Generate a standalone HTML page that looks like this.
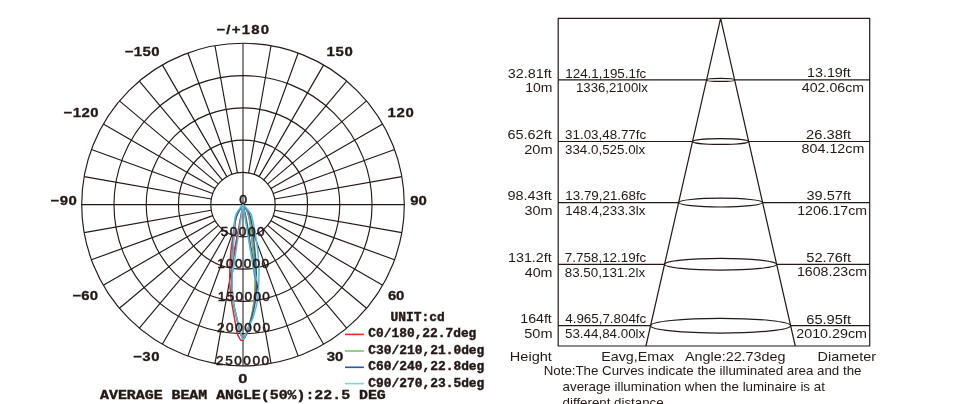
<!DOCTYPE html>
<html><head><meta charset="utf-8"><style>
html,body{margin:0;padding:0;background:#fff;}
svg{display:block;will-change:transform;}
text{fill:#231815;white-space:pre;}
.b{font-family:"Liberation Sans",sans-serif;font-weight:bold;stroke:#231815;stroke-width:0.3;}
.s{font-family:"Liberation Sans",sans-serif;}
.m{font-family:"Liberation Mono",monospace;font-weight:bold;stroke:#231815;stroke-width:0.4;}
.r{font-family:"Liberation Sans",sans-serif;stroke:#231815;stroke-width:0.5;}
</style></head><body>
<svg width="977" height="404" viewBox="0 0 977 404">
<rect width="977" height="404" fill="#fff"/>
<path d="M243 43.3V365.9" stroke="#878180" stroke-width="1.9" fill="none"/>
<g fill="none" stroke="#231815" stroke-width="1.15"><circle cx="243" cy="204.6" r="32.26"/><circle cx="243" cy="204.6" r="64.52"/><circle cx="243" cy="204.6" r="96.78"/><circle cx="243" cy="204.6" r="129.04"/><circle cx="243" cy="204.6" r="161.3"/><path d="M248.6 172.83L271.01 45.75M254.03 174.29L298.17 53.03M259.13 176.66L323.65 64.91M263.74 179.89L346.68 81.04M267.71 183.86L366.56 100.92M270.94 188.47L382.69 123.95M273.31 193.57L394.57 149.43M274.77 199L401.85 176.59M274.77 210.2L401.85 232.61M273.31 215.63L394.57 259.77M270.94 220.73L382.69 285.25M267.71 225.34L366.56 308.28M263.74 229.31L346.68 328.16M259.13 232.54L323.65 344.29M254.03 234.91L298.17 356.17M248.6 236.37L271.01 363.45M237.4 236.37L214.99 363.45M231.97 234.91L187.83 356.17M226.87 232.54L162.35 344.29M222.26 229.31L139.32 328.16M218.29 225.34L119.44 308.28M215.06 220.73L103.31 285.25M212.69 215.63L91.43 259.77M211.23 210.2L84.15 232.61M211.23 199L84.15 176.59M212.69 193.57L91.43 149.43M215.06 188.47L103.31 123.95M218.29 183.86L119.44 100.92M222.26 179.89L139.32 81.04M226.87 176.66L162.35 64.91M231.97 174.29L187.83 53.03M237.4 172.83L214.99 45.75"/><path d="M81.7 204.6H404.3"/></g>
<g fill="none" stroke="#231815" stroke-width="1.2"><path d="M558.2 18.3H869.7V346H558.2Z"/><path d="M645.95 346L720.6 18.3L795.25 346"/><path d="M558.2 79.9H706.57M734.63 79.9H869.7"/><ellipse cx="720.6" cy="79.9" rx="14.03" ry="1.47"/><path d="M558.2 141.5H692.54M748.66 141.5H869.7"/><ellipse cx="720.6" cy="141.5" rx="28.06" ry="2.95"/><path d="M558.2 202.6H678.62M762.58 202.6H869.7"/><ellipse cx="720.6" cy="202.6" rx="41.98" ry="4.41"/><path d="M558.2 264.3H664.56M776.64 264.3H869.7"/><ellipse cx="720.6" cy="264.3" rx="56.04" ry="5.88"/><path d="M558.2 325.7H650.57M790.63 325.7H869.7"/><ellipse cx="720.6" cy="325.7" rx="70.03" ry="7.35"/></g>
<g fill="none" stroke-width="1.5" stroke-linejoin="round" stroke-linecap="round"><path d="M243.00 204.80C242.58 205.33 241.42 206.63 240.50 208.00C239.58 209.37 238.42 211.00 237.50 213.00C236.58 215.00 235.72 216.50 235.00 220.00C234.28 223.50 233.93 228.17 233.20 234.00C232.47 239.83 231.18 247.33 230.60 255.00C230.02 262.67 229.70 273.50 229.70 280.00C229.70 286.50 230.28 290.33 230.60 294.00C230.92 297.67 230.98 298.17 231.60 302.00C232.22 305.83 233.37 311.83 234.30 317.00C235.23 322.17 236.25 329.33 237.20 333.00C238.15 336.67 239.20 337.73 240.00 339.00C240.80 340.27 241.25 340.77 242.00 340.60C242.75 340.43 243.58 339.43 244.50 338.00C245.42 336.57 246.33 335.33 247.50 332.00C248.67 328.67 250.42 323.00 251.50 318.00C252.58 313.00 253.37 307.50 254.00 302.00C254.63 296.50 255.22 291.67 255.30 285.00C255.38 278.33 255.05 269.50 254.50 262.00C253.95 254.50 252.75 246.67 252.00 240.00C251.25 233.33 250.75 226.67 250.00 222.00C249.25 217.33 248.33 214.42 247.50 212.00C246.67 209.58 245.75 208.70 245.00 207.50C244.25 206.30 243.33 205.25 243.00 204.80" stroke="#e3262b"/><path d="M243.00 204.80C242.58 207.00 241.33 213.47 240.50 218.00C239.67 222.53 239.00 226.67 238.00 232.00C237.00 237.33 235.58 244.00 234.50 250.00C233.42 256.00 232.00 265.00 231.50 268.00" stroke="#e3262b"/><path d="M243.00 204.80C242.63 205.33 241.63 206.63 240.80 208.00C239.97 209.37 238.88 211.00 238.00 213.00C237.12 215.00 236.20 216.17 235.50 220.00C234.80 223.83 234.32 229.67 233.80 236.00C233.28 242.33 232.73 250.33 232.40 258.00C232.07 265.67 231.70 275.00 231.80 282.00C231.90 289.00 232.22 294.17 233.00 300.00C233.78 305.83 235.25 311.50 236.50 317.00C237.75 322.50 239.38 329.42 240.50 333.00C241.62 336.58 242.20 338.50 243.20 338.50C244.20 338.50 245.20 336.42 246.50 333.00C247.80 329.58 249.70 323.50 251.00 318.00C252.30 312.50 253.58 305.50 254.30 300.00C255.02 294.50 255.28 291.33 255.30 285.00C255.32 278.67 254.92 269.17 254.40 262.00C253.88 254.83 252.90 248.33 252.20 242.00C251.50 235.67 250.90 228.83 250.20 224.00C249.50 219.17 248.80 215.67 248.00 213.00C247.20 210.33 246.23 209.37 245.40 208.00C244.57 206.63 243.40 205.33 243.00 204.80" stroke="#76be4e"/><path d="M243.00 204.80C243.43 207.00 244.73 213.13 245.60 218.00C246.47 222.87 247.27 228.00 248.20 234.00C249.13 240.00 250.15 247.00 251.20 254.00C252.25 261.00 253.95 272.33 254.50 276.00" stroke="#76be4e"/><path d="M243.00 204.80C242.63 205.33 241.63 206.63 240.80 208.00C239.97 209.37 238.88 211.00 238.00 213.00C237.12 215.00 236.23 216.17 235.50 220.00C234.77 223.83 234.15 229.67 233.60 236.00C233.05 242.33 232.50 250.33 232.20 258.00C231.90 265.67 231.67 275.00 231.80 282.00C231.93 289.00 232.22 294.17 233.00 300.00C233.78 305.83 235.25 311.50 236.50 317.00C237.75 322.50 239.38 329.42 240.50 333.00C241.62 336.58 242.20 338.50 243.20 338.50C244.20 338.50 245.12 336.42 246.50 333.00C247.88 329.58 250.00 323.50 251.50 318.00C253.00 312.50 254.67 305.83 255.50 300.00C256.33 294.17 256.50 290.00 256.50 283.00C256.50 276.00 256.00 265.50 255.50 258.00C255.00 250.50 254.15 244.00 253.50 238.00C252.85 232.00 252.35 226.17 251.60 222.00C250.85 217.83 250.00 215.33 249.00 213.00C248.00 210.67 246.60 209.37 245.60 208.00C244.60 206.63 243.43 205.33 243.00 204.80" stroke="#2b55a2"/><path d="M243.00 204.80C243.50 207.00 245.00 212.80 246.00 218.00C247.00 223.20 247.92 229.33 249.00 236.00C250.08 242.67 251.42 251.00 252.50 258.00C253.58 265.00 255.00 274.67 255.50 278.00" stroke="#2b55a2"/><path d="M243.00 204.80C242.67 205.17 241.73 206.13 241.00 207.00C240.27 207.87 239.40 208.83 238.60 210.00C237.80 211.17 236.83 212.42 236.20 214.00C235.57 215.58 235.12 217.17 234.80 219.50C234.48 221.83 234.53 223.75 234.30 228.00C234.07 232.25 233.73 238.83 233.40 245.00C233.07 251.17 232.50 258.33 232.30 265.00C232.10 271.67 232.07 279.17 232.20 285.00C232.33 290.83 232.38 294.67 233.10 300.00C233.82 305.33 235.25 311.50 236.50 317.00C237.75 322.50 239.48 329.25 240.60 333.00C241.72 336.75 242.33 339.33 243.20 339.50C244.07 339.67 244.83 336.25 245.80 334.00C246.77 331.75 247.77 328.83 249.00 326.00C250.23 323.17 251.77 321.33 253.20 317.00C254.63 312.67 256.70 305.33 257.60 300.00C258.50 294.67 258.37 290.33 258.60 285.00C258.83 279.67 259.20 274.17 259.00 268.00C258.80 261.83 258.07 254.00 257.40 248.00C256.73 242.00 255.77 236.50 255.00 232.00C254.23 227.50 253.47 224.00 252.80 221.00C252.13 218.00 251.80 215.83 251.00 214.00C250.20 212.17 248.97 211.17 248.00 210.00C247.03 208.83 246.03 207.87 245.20 207.00C244.37 206.13 243.37 205.17 243.00 204.80" stroke="#56bcd9"/><path d="M243.00 204.80C242.67 207.00 241.75 213.13 241.00 218.00C240.25 222.87 239.40 228.00 238.50 234.00C237.60 240.00 236.52 247.67 235.60 254.00C234.68 260.33 233.43 269.00 233.00 272.00" stroke="#56bcd9"/><path d="M243.00 204.80C243.37 207.00 244.37 212.80 245.20 218.00C246.03 223.20 246.95 229.67 248.00 236.00C249.05 242.33 250.08 248.67 251.50 256.00C252.92 263.33 255.67 276.00 256.50 280.00" stroke="#56bcd9"/></g>
<path d="M345 334.4H363.9" stroke="#e52a2c" stroke-width="1.6"/><path d="M345 351H363.9" stroke="#7cc35a" stroke-width="1.6"/><path d="M345 367.3H363.9" stroke="#2b56a3" stroke-width="1.6"/><path d="M345 383.6H363.9" stroke="#86d0e0" stroke-width="1.6"/>
<text class="b" transform="translate(216.4 34.4) scale(1.15 1)" font-size="13" textLength="45.87" lengthAdjust="spacing">−/+180</text><text class="b" transform="translate(124.7 56.2) scale(1.15 1)" font-size="13" textLength="30.22" lengthAdjust="spacing">−150</text><text class="b" transform="translate(326.55 56.2) scale(1.15 1)" font-size="13" textLength="22.83" lengthAdjust="spacing">150</text><text class="b" transform="translate(63.4 117.1) scale(1.15 1)" font-size="13" textLength="30.65" lengthAdjust="spacing">−120</text><text class="b" transform="translate(387.45 117.1) scale(1.15 1)" font-size="13" textLength="22.83" lengthAdjust="spacing">120</text><text class="b" transform="translate(50.5 204.9) scale(1.15 1)" font-size="13" textLength="22.83" lengthAdjust="spacing">−90</text><text class="b" transform="translate(410.15 205) scale(1.15 1)" font-size="13" textLength="14.57" lengthAdjust="spacing">90</text><text class="b" transform="translate(72.5 299.9) scale(1.15 1)" font-size="13" textLength="22.17" lengthAdjust="spacing">−60</text><text class="b" transform="translate(387.95 300) scale(1.15 1)" font-size="13" textLength="14.35" lengthAdjust="spacing">60</text><text class="b" transform="translate(133.2 360.6) scale(1.15 1)" font-size="13" textLength="22.83" lengthAdjust="spacing">−30</text><text class="b" transform="translate(326.65 360.6) scale(1.15 1)" font-size="13" textLength="14.57" lengthAdjust="spacing">30</text><text class="b" transform="translate(238.3 383.1) scale(1.2667 1)" font-size="13">0</text><text class="r" transform="translate(239.15 203.6) scale(1.1606 1)" font-size="12.1">0</text><text class="r" transform="translate(220.75 235.6) scale(1.12 1)" font-size="12.1" textLength="39.06" lengthAdjust="spacing">50000</text><text class="r" transform="translate(217.25 267.8) scale(1.12 1)" font-size="12.1" textLength="46.21" lengthAdjust="spacing">100000</text><text class="r" transform="translate(217.65 300.7) scale(1.12 1)" font-size="12.1" textLength="46.65" lengthAdjust="spacing">150000</text><text class="r" transform="translate(217 332) scale(1.12 1)" font-size="12.1" textLength="47.32" lengthAdjust="spacing">200000</text><text class="r" transform="translate(216.1 365) scale(1.12 1)" font-size="12.1" textLength="47.32" lengthAdjust="spacing">250000</text><text class="m" transform="translate(390.4 320.7)" font-size="12.2" textLength="54.25" lengthAdjust="spacingAndGlyphs">UNIT:cd</text><text class="m" transform="translate(368.35 336.9)" font-size="12.2" textLength="108" lengthAdjust="spacingAndGlyphs">C0/180,22.7deg</text><text class="m" transform="translate(368.35 353.7)" font-size="12.2" textLength="116" lengthAdjust="spacingAndGlyphs">C30/210,21.0deg</text><text class="m" transform="translate(368.35 370)" font-size="12.2" textLength="116" lengthAdjust="spacingAndGlyphs">C60/240,22.8deg</text><text class="m" transform="translate(368.35 386.6)" font-size="12.2" textLength="116" lengthAdjust="spacingAndGlyphs">C90/270,23.5deg</text><text class="m" transform="translate(100.05 398.5)" font-size="12.5" textLength="285.75" lengthAdjust="spacingAndGlyphs">AVERAGE BEAM ANGLE(50%):22.5 DEG</text><text class="s" transform="translate(507.7 77.5)" font-size="13.3" textLength="44" lengthAdjust="spacingAndGlyphs">32.81ft</text><text class="s" transform="translate(525.2 92)" font-size="13.3" textLength="27.25" lengthAdjust="spacingAndGlyphs">10m</text><text class="s" transform="translate(565.3 77.5)" font-size="13.3" textLength="81" lengthAdjust="spacingAndGlyphs">124.1,195.1fc</text><text class="s" transform="translate(576 92)" font-size="13.3" textLength="71.75" lengthAdjust="spacingAndGlyphs">1336,2100lx</text><text class="s" transform="translate(807 77.2)" font-size="13.3" textLength="43.75" lengthAdjust="spacingAndGlyphs">13.19ft</text><text class="s" transform="translate(801.85 92.2)" font-size="13.3" textLength="62.25" lengthAdjust="spacingAndGlyphs">402.06cm</text><text class="s" transform="translate(507.45 138.8)" font-size="13.3" textLength="44.25" lengthAdjust="spacingAndGlyphs">65.62ft</text><text class="s" transform="translate(524.15 153.6)" font-size="13.3" textLength="28.5" lengthAdjust="spacingAndGlyphs">20m</text><text class="s" transform="translate(565 138.8)" font-size="13.3" textLength="81.25" lengthAdjust="spacingAndGlyphs">31.03,48.77fc</text><text class="s" transform="translate(565 153.6)" font-size="13.3" textLength="80.25" lengthAdjust="spacingAndGlyphs">334.0,525.0lx</text><text class="s" transform="translate(806.05 139)" font-size="13.3" textLength="45" lengthAdjust="spacingAndGlyphs">26.38ft</text><text class="s" transform="translate(801.6 153.4)" font-size="13.3" textLength="62.75" lengthAdjust="spacingAndGlyphs">804.12cm</text><text class="s" transform="translate(507.45 200.3)" font-size="13.3" textLength="44.25" lengthAdjust="spacingAndGlyphs">98.43ft</text><text class="s" transform="translate(524.5 215)" font-size="13.3" textLength="28" lengthAdjust="spacingAndGlyphs">30m</text><text class="s" transform="translate(565.3 200.3)" font-size="13.3" textLength="81" lengthAdjust="spacingAndGlyphs">13.79,21.68fc</text><text class="s" transform="translate(565.3 215)" font-size="13.3" textLength="80" lengthAdjust="spacingAndGlyphs">148.4,233.3lx</text><text class="s" transform="translate(806.5 200.3)" font-size="13.3" textLength="44.5" lengthAdjust="spacingAndGlyphs">39.57ft</text><text class="s" transform="translate(797.2 215)" font-size="13.3" textLength="69.75" lengthAdjust="spacingAndGlyphs">1206.17cm</text><text class="s" transform="translate(508 261.9)" font-size="13.3" textLength="43.75" lengthAdjust="spacingAndGlyphs">131.2ft</text><text class="s" transform="translate(524.75 277)" font-size="13.3" textLength="27.75" lengthAdjust="spacingAndGlyphs">40m</text><text class="s" transform="translate(564.75 261.9)" font-size="13.3" textLength="81.5" lengthAdjust="spacingAndGlyphs">7.758,12.19fc</text><text class="s" transform="translate(564.7 277)" font-size="13.3" textLength="80.5" lengthAdjust="spacingAndGlyphs">83.50,131.2lx</text><text class="s" transform="translate(806.25 261.8)" font-size="13.3" textLength="44.75" lengthAdjust="spacingAndGlyphs">52.76ft</text><text class="s" transform="translate(797 276.3)" font-size="13.3" textLength="70" lengthAdjust="spacingAndGlyphs">1608.23cm</text><text class="s" transform="translate(520.3 323)" font-size="13.3" textLength="31.5" lengthAdjust="spacingAndGlyphs">164ft</text><text class="s" transform="translate(524.25 337.8)" font-size="13.3" textLength="28.25" lengthAdjust="spacingAndGlyphs">50m</text><text class="s" transform="translate(565.25 323)" font-size="13.3" textLength="81" lengthAdjust="spacingAndGlyphs">4.965,7.804fc</text><text class="s" transform="translate(565 337.8)" font-size="13.3" textLength="80.25" lengthAdjust="spacingAndGlyphs">53.44,84.00lx</text><text class="s" transform="translate(806.25 323.7)" font-size="13.3" textLength="44.75" lengthAdjust="spacingAndGlyphs">65.95ft</text><text class="s" transform="translate(796.25 338.4)" font-size="13.3" textLength="70.75" lengthAdjust="spacingAndGlyphs">2010.29cm</text><text class="s" transform="translate(509.85 360.8)" font-size="13.3" textLength="42" lengthAdjust="spacingAndGlyphs">Height</text><text class="s" transform="translate(601.25 360.8)" font-size="13.3" textLength="73" lengthAdjust="spacingAndGlyphs">Eavg,Emax</text><text class="s" transform="translate(685 360.8)" font-size="13.3" textLength="100.5" lengthAdjust="spacingAndGlyphs">Angle:22.73deg</text><text class="s" transform="translate(817.55 360.8)" font-size="13.3" textLength="58.5" lengthAdjust="spacingAndGlyphs">Diameter</text><text class="s" transform="translate(543.7 374.9)" font-size="13.3" textLength="317.75" lengthAdjust="spacingAndGlyphs">Note:The Curves indicate the illuminated area and the</text><text class="s" transform="translate(562.6 391)" font-size="13.3" textLength="262.25" lengthAdjust="spacingAndGlyphs">average illumination when the luminaire is at</text><text class="s" transform="translate(562.6 406.6)" font-size="13.3">different distance</text>
</svg>
</body></html>
